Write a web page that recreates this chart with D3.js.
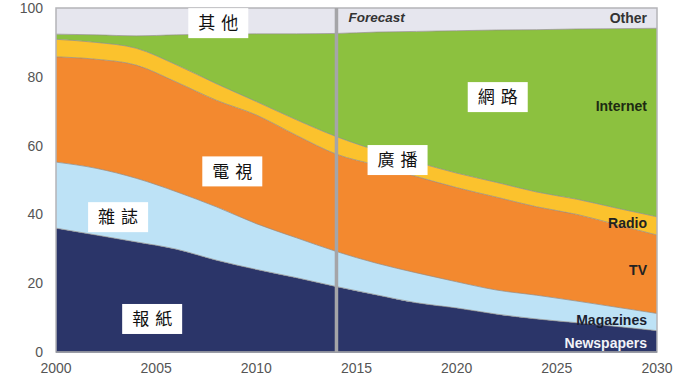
<!DOCTYPE html>
<html>
<head>
<meta charset="utf-8">
<script src="https://cdn.jsdelivr.net/npm/d3@7"></script>
<style>
  body { margin: 0; background: #fff; }
  svg { display: block; }
  .tick_label { font-family: "Liberation Sans", Arial, sans-serif; font-size: 14px; fill: #555; }
  .series_label { font-family: "Liberation Sans", Arial, sans-serif; font-size: 14px; font-weight: bold; }
  .zh_label { font-family: "Noto Sans CJK TC", sans-serif; font-size: 17px; letter-spacing: 6px; fill: #111; }
</style>
</head>
<body>
<svg id="chart" width="685" height="378"></svg>
<script>

// share of spending (%)
var years      = [2000, 2002, 2004, 2006, 2008, 2010, 2012, 2014, 2016, 2018, 2020, 2022, 2024, 2026, 2028, 2030]
var newspapers = [36.0, 34.0, 32.0, 29.9, 26.7, 24.0, 21.6, 19.0, 16.6, 14.3, 12.8, 11.0,  9.6,  8.5,  7.4,  6.2]
var magazines  = [19.2, 19.4, 18.5, 16.7, 15.5, 13.3, 11.6, 10.2,  9.2,  8.7,  7.6,  7.0,  6.9,  6.3,  5.6,  5.0]
var tv         = [30.6, 31.7, 32.9, 31.9, 31.0, 31.6, 29.8, 28.3, 28.5, 28.0, 27.4, 27.0, 25.7, 25.2, 24.0, 22.8]
var radio      = [ 5.1,  4.9,  4.9,  5.0,  4.8,  3.9,  4.5,  5.1,  4.3,  4.2,  4.2,  4.3,  4.3,  4.4,  4.8,  5.3]
var internet   = [ 1.5,  2.2,  3.6,  8.7, 14.4, 19.7, 25.0, 30.0, 34.4, 38.0, 41.4, 44.3, 47.2, 49.5, 52.2, 54.8]
var other      = [ 7.6,  7.8,  8.1,  7.8,  7.6,  7.5,  7.5,  7.4,  7.0,  6.8,  6.6,  6.4,  6.3,  6.1,  6.0,  5.9]

var series_names = ["Newspapers", "Magazines", "TV", "Radio", "Internet", "Other"]
var series_values = [newspapers, magazines, tv, radio, internet, other]

var x_ticks = [2000, 2005, 2010, 2015, 2020, 2025, 2030]
var y_ticks = [0, 20, 40, 60, 80, 100]
var forecast_year = 2014

// chinese annotation boxes: [text, year, value]
var zh_labels = [
	["其他", 2008.1, 95.6],
	["電視", 2008.8, 52.5],
	["廣播", 2017.05, 55.8],
	["網路", 2022.05, 74.1],
	["雜誌", 2003.1, 39.2],
	["報紙", 2004.8, 9.6]
]

// english series labels at the right edge: [text, value, colour]
var right_labels = [
	["Other", 97.2, "#333"],
	["Internet", 71.6, "#1d2b12"],
	["Radio", 37.6, "#222"],
	["TV", 23.8, "#222"],
	["Magazines", 9.4, "#1a2030"],
	["Newspapers", 2.5, "#f2f3f8"]
]

var colours = {
	"Newspapers": "#2b3569",
	"Magazines": "#bde2f6",
	"TV": "#f3892f",
	"Radio": "#fbc22d",
	"Internet": "#8cc13f",
	"Other": "#e6e6ee"
}

var svg = d3.select("#chart")

var x = d3.scaleLinear().domain([2000, 2030]).range([56, 657])
var y = d3.scaleLinear().domain([0, 100]).range([352, 8])

var table = years.map(function(yr, i) {
	var row = {year: yr}
	series_names.forEach(function(name, j) { row[name] = series_values[j][i] })
	return row
})

var stacked = d3.stack().keys(series_names)(table)

var area = d3.area()
	.x(function(d) { return x(d.data.year) })
	.y0(function(d) { return y(d[0]) })
	.y1(function(d) { return y(d[1]) })
	.curve(d3.curveMonotoneX)

var top_line = d3.line()
	.x(function(d) { return x(d.data.year) })
	.y(function(d) { return y(d[1]) })
	.curve(d3.curveMonotoneX)

svg.append("g").selectAll("path")
	.data(stacked)
	.enter()
	.append("path")
	.attr("d", area)
	.attr("fill", function(d) { return colours[d.key] })

// thin grey seams between layers
svg.append("g").selectAll("path")
	.data(stacked.slice(0, -1))
	.enter()
	.append("path")
	.attr("d", top_line)
	.attr("fill", "none")
	.attr("stroke", "#8f8a86")
	.attr("stroke-opacity", 0.7)
	.attr("stroke-width", 1)

// frame
svg.append("rect")
	.attr("x", x(2000))
	.attr("y", y(100))
	.attr("width", x(2030) - x(2000))
	.attr("height", y(0) - y(100))
	.attr("fill", "none")
	.attr("stroke", "#b4b4b8")
	.attr("stroke-width", 1.5)

svg.append("line")
	.attr("x1", x(2000)).attr("x2", x(2030))
	.attr("y1", y(0)).attr("y2", y(0))
	.attr("stroke", "#8a8d99")
	.attr("stroke-width", 1.5)

// forecast divider
svg.append("line")
	.attr("x1", x(forecast_year)).attr("x2", x(forecast_year))
	.attr("y1", y(100)).attr("y2", y(0))
	.attr("stroke", "#a5a5a8")
	.attr("stroke-width", 3.5)

svg.append("text")
	.attr("x", x(forecast_year) + 12)
	.attr("y", y(100) + 14)
	.attr("class", "series_label")
	.style("font-style", "italic")
	.style("font-size", "13.5px")
	.attr("fill", "#333")
	.text("Forecast")

// axes labels
svg.append("g").selectAll("text")
	.data(y_ticks)
	.enter()
	.append("text")
	.attr("class", "tick_label")
	.attr("x", x(2000) - 13)
	.attr("y", function(d) { return y(d) })
	.attr("dy", "0.36em")
	.attr("text-anchor", "end")
	.text(function(d) { return d })

svg.append("g").selectAll("text")
	.data(x_ticks)
	.enter()
	.append("text")
	.attr("class", "tick_label")
	.attr("x", function(d) { return x(d) })
	.attr("y", y(0) + 21)
	.attr("text-anchor", "middle")
	.text(function(d) { return d })

// right side series labels
svg.append("g").selectAll("text")
	.data(right_labels)
	.enter()
	.append("text")
	.attr("class", "series_label")
	.attr("x", x(2030) - 10)
	.attr("y", function(d) { return y(d[1]) })
	.attr("dy", "0.36em")
	.attr("text-anchor", "end")
	.attr("fill", function(d) { return d[2] })
	.text(function(d) { return d[0] })

// chinese labels in white boxes
var zh = svg.append("g").selectAll("g")
	.data(zh_labels)
	.enter()
	.append("g")
	.attr("transform", function(d) { return "translate(" + x(d[1]) + "," + y(d[2]) + ")" })

zh.append("rect")
	.attr("x", -30)
	.attr("y", -15)
	.attr("width", 60)
	.attr("height", 30)
	.attr("fill", "#fff")

zh.append("text")
	.attr("class", "zh_label")
	.attr("x", 3)
	.attr("y", 0)
	.attr("dy", "0.36em")
	.attr("text-anchor", "middle")
	.text(function(d) { return d[0] })

</script>
</body>
</html>
